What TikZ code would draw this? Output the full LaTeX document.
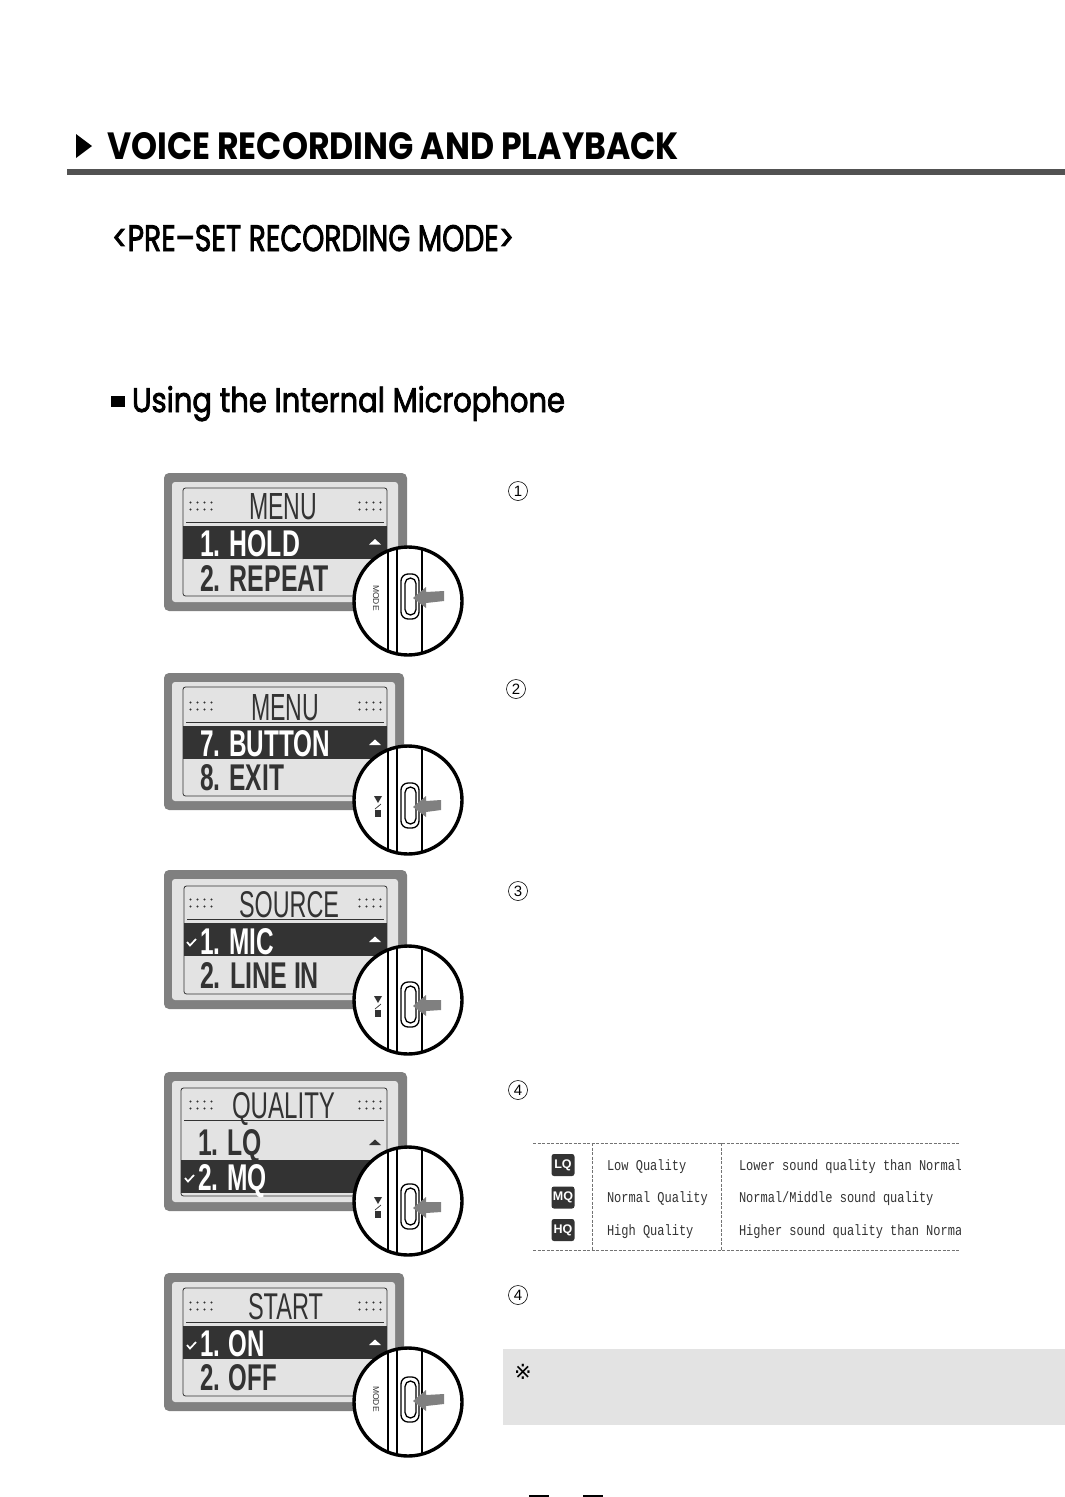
\documentclass[tikz,border=0pt]{standalone}
\usepackage{graphicx}
\usepackage{fontspec}
\setmainfont{Liberation Sans}
\newfontfamily\geo{Poppins}
\newfontfamily\geoheavy[FakeBold=2.5]{Poppins}
\newfontfamily\tabfont[FakeStretch=0.8]{Liberation Mono}
\newfontfamily\djsym{DejaVu Sans}
\definecolor{lcdbg}{HTML}{E3E3E3}
\definecolor{frame}{HTML}{808080}
\definecolor{inkd}{HTML}{333333}
\tikzset{
  txt/.style={anchor=base west,inner sep=0pt,outer sep=0pt},
  num/.style={circle,draw=black,line width=.6pt,minimum size=19pt,inner sep=0pt,font=\fontsize{15}{15}\selectfont},
  tabtext/.style={txt,text=inkd,font=\tabfont\fontsize{15}{15}\selectfont},
  icon/.style={rounded corners=2.5pt,fill=inkd,text=white,minimum width=23pt,minimum height=22pt,inner sep=0pt,font=\bfseries\fontsize{12.5}{12.5}\selectfont},
  dashln/.style={draw=black!55,line width=.7pt,dash pattern=on 3pt off 1.5pt},
  tick/.style={white,line width=1.7pt},
}
% name, x, baseline, width, height, colour, font, text
\newcommand{\fitt}[8]{\node[txt,text=#6] (#1) at (#2,#3) {\resizebox{#4pt}{#5pt}{#7#8}};}
% outer top, bottom, right, lcd left, lcd top, lcd bottom, band top
\newcommand{\lcdpanel}[7]{
  \fill[frame,rounded corners=5pt] (164,#1) rectangle (#3,#2);
  \fill[lcdbg,rounded corners=3pt] (172,#1+9) rectangle (#3-9,#2-9);
  \draw[inkd,line width=.8pt,rounded corners=2.5pt] (#4,#5) rectangle (387,#6);
  \draw[inkd,line width=.9pt] (#4+3,#7-4) -- (384,#7-4);
  \fill[inkd] (#4,#7) rectangle (387,#7+33);
  \foreach \dx in {0,7,14,21} \foreach \dy in {-3.5,3.5} {
    \fill[inkd] (190.5+\dx,#7-20+\dy) circle (1.1);
    \fill[inkd] (359.5+\dx,#7-20+\dy) circle (1.1);
  }
}
% circle centre y, button y, arrow right end, tilt
\newcommand{\loupe}[4]{
  \fill[white] (408,#1) circle (54);
  \begin{scope}
    \clip (408,#1) circle (54);
    \draw[black,line width=1.3pt] (388,#1-60) -- (388,#1+60);
    \draw[black,line width=1.3pt] (397,#1-60) -- (397,#1+60);
    \draw[black,line width=2.2pt] (422,#1-60) -- (422,#1+60);
  \end{scope}
  \draw[black,line width=1.3pt,fill=white,rounded corners=7pt] (401,#2-23) rectangle (419,#2+22);
  \draw[black,line width=1.3pt,rounded corners=5.5pt] (405,#2-19) rectangle (416,#2+18);
  \fill[frame] (413,#2+1) -- (426,#2-10) -- (426,#2-5) -- (#3,#2-5-#4) -- (#3,#2+5-#4) -- (426,#2+6) -- (426,#2+11) -- cycle;
  \draw[black,line width=3.4pt] (408,#1) circle (54);
}
\newcommand{\playsym}[1]{
  \fill[inkd] (374,#1-8) -- (382,#1-8) -- (378,#1-1) -- cycle;
  \draw[inkd,line width=.7pt] (381,#1) -- (375,#1+5);
  \fill[inkd] (375,#1+6) rectangle (381,#1+13);
}
\begin{document}
\begin{tikzpicture}[x=1pt,y=-1pt]
\useasboundingbox (0,0) rectangle (1065,1497);
\fill[white] (0,0) rectangle (1065,1497);
% heading
\fill[black] (76,134) -- (92,146) -- (76,158) -- cycle;
\fitt{head}{107}{159}{572}{27}{black}{\geo\bfseries}{VOICE RECORDING AND PLAYBACK}
\fill[inkd!85!white] (67,169) rectangle (1065,175);
\fitt{sub}{112}{251}{402}{26}{black}{\geoheavy}{<PRE–SET RECORDING MODE>}
\fill[black] (111,396) rectangle (125,407);
\fitt{mic}{132}{412}{433}{26}{black}{\geoheavy}{Using the Internal Microphone}
% panel 1
\lcdpanel{473}{611}{407}{183}{488}{596}{526}
\fitt{t1}{249}{519}{68}{26}{inkd}{\rmfamily}{MENU}
\fitt{a1}{200}{556}{100}{26}{white}{\bfseries}{1. HOLD}
\fitt{b1}{200}{591}{129}{26}{inkd}{\bfseries}{2. REPEAT}
\fill[white] (369,544.5) -- (375,539) -- (381,544.5) -- cycle;
\loupe{601}{597}{444}{1}
\node[rotate=-90,inner sep=0pt,text=inkd,font=\fontsize{8.5}{8.5}\selectfont] (m1) at (376,598) {MODE};
% panel 2
\lcdpanel{673}{810}{404}{183}{687}{796}{726}
\fitt{t2}{251}{720}{68}{26}{inkd}{\rmfamily}{MENU}
\fitt{a2}{200}{756}{130}{26}{white}{\bfseries}{7. BUTTON}
\fitt{b2}{200}{790}{84}{26}{inkd}{\bfseries}{8. EXIT}
\fill[white] (369,745) -- (375,739.5) -- (381,745) -- cycle;
\loupe{800}{806}{441}{1}
\playsym{804}
% panel 3
\lcdpanel{870}{1009}{407}{184}{886}{994}{923}
\fitt{t3}{239}{917}{100}{26}{inkd}{\rmfamily}{SOURCE}
\fitt{a3}{200}{954}{74}{26}{white}{\bfseries}{1. MIC}
\fitt{b3}{200}{988}{119}{26}{inkd}{\bfseries}{2. LINE IN}
\draw[tick] (187,942) -- (190,945.5) -- (196,939);
\fill[white] (369,942) -- (375,936.5) -- (381,942) -- cycle;
\loupe{1000}{1005}{441}{0}
\playsym{1004}
% panel 4
\lcdpanel{1072}{1211}{407}{181}{1088}{1196}{1160}
\fill[lcdbg] (182,1121) rectangle (386,1159);
\draw[inkd,line width=.9pt] (184,1120) -- (384,1120);
\foreach \dx in {0,7,14,21} \foreach \dy in {-3.5,3.5} {
  \fill[inkd] (190.5+\dx,1105+\dy) circle (1.1);
  \fill[inkd] (359.5+\dx,1105+\dy) circle (1.1);
}
\fitt{t4}{232}{1118}{103}{26}{inkd}{\rmfamily}{QUALITY}
\fitt{a4}{198}{1155}{64}{26}{inkd}{\bfseries}{1. LQ}
\fitt{b4}{198}{1190}{69}{26}{white}{\bfseries}{2. MQ}
\draw[tick] (185,1178) -- (188,1181.5) -- (194,1175);
\fill[inkd] (369,1145) -- (375,1139.5) -- (381,1145) -- cycle;
\loupe{1201}{1207}{441}{0}
\playsym{1205}
% panel 5
\lcdpanel{1273}{1411}{404}{183}{1288}{1396}{1326}
\fitt{t5}{248}{1319}{75}{26}{inkd}{\rmfamily}{START}
\fitt{a5}{200}{1356}{65}{26}{white}{\bfseries}{1. ON}
\fitt{b5}{200}{1390}{77}{26}{inkd}{\bfseries}{2. OFF}
\draw[tick] (187,1345) -- (190,1348.5) -- (196,1342);
\fill[white] (369,1345) -- (375,1339.5) -- (381,1345) -- cycle;
\loupe{1402}{1400}{444}{1}
\node[rotate=-90,inner sep=0pt,text=inkd,font=\fontsize{8.5}{8.5}\selectfont] (m5) at (376,1399) {MODE};
% step numbers
\node[num] (n1) at (518,491) {1};
\node[num] (n2) at (516,689) {2};
\node[num] (n3) at (518,891) {3};
\node[num] (n4) at (518,1090) {4};
\node[num] (n5) at (518,1295) {4};
% table
\draw[dashln] (533,1143) -- (960,1143);
\draw[dashln] (533,1250) -- (960,1250);
\draw[dashln] (592,1143) -- (592,1250);
\draw[dashln] (721,1143) -- (721,1250);
\node[icon] (lq) at (563,1165) {LQ};
\node[icon] (mq) at (563,1197.5) {MQ};
\node[icon] (hq) at (563,1230) {HQ};
\node[tabtext] (q1) at (607,1170) {Low Quality};
\node[tabtext] (q2) at (607,1202) {Normal Quality};
\node[tabtext] (q3) at (607,1235) {High Quality};
\begin{scope}
\clip (735,1145) rectangle (960,1248);
\node[tabtext] (d1) at (739,1170) {Lower sound quality than Normal};
\node[tabtext] (d2) at (739,1202) {Normal/Middle sound quality};
\node[tabtext] (d3) at (739,1235) {Higher sound quality than Normal};
\end{scope}
% note
\fill[lcdbg] (503,1349) rectangle (1065,1425);
\node[inner sep=0pt,font=\djsym\fontsize{21}{21}\selectfont] (note) at (523,1372) {※};
% page number fragments
\fill[black] (529,1494.5) rectangle (549,1497);
\fill[black] (583,1494.5) rectangle (603,1497);
\end{tikzpicture}
\end{document}
